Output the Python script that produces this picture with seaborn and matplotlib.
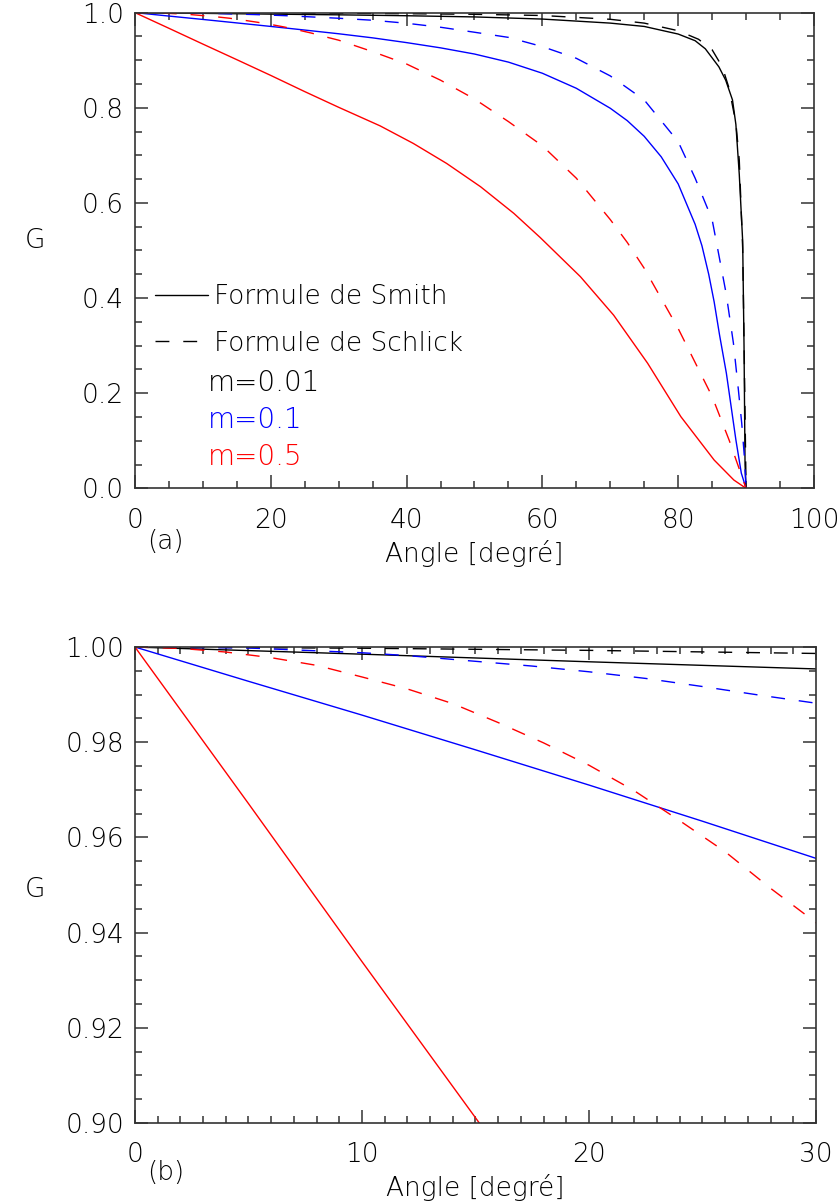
import numpy as np
import pandas as pd
import matplotlib
matplotlib.use("Agg")
import matplotlib.pyplot as plt
from matplotlib.lines import Line2D
from matplotlib.ticker import MultipleLocator, FormatStrFormatter
import seaborn as sns

# values (angle in degrees, G)
smith_001_angle = [0, 10, 20, 30, 40, 50, 60, 70, 75, 80, 82.5, 84, 85, 86, 87, 88, 88.5, 89, 89.5, 89.7, 89.85, 90]
smith_001_g = [1.0, 0.9985, 0.9969, 0.9954, 0.9935, 0.991, 0.9865, 0.978, 0.971, 0.955, 0.941, 0.924,
               0.905, 0.886, 0.858, 0.8165, 0.765, 0.66, 0.52, 0.30, 0.05, 0.0]

schlick_001_angle = [0, 10, 20, 30, 40, 50, 60, 70, 75, 80, 83, 85, 86.5, 87.5, 88.5, 89, 89.5, 89.75, 90]
schlick_001_g = [1.0, 0.99975, 0.9993, 0.99865, 0.9978, 0.9965, 0.994, 0.986, 0.978, 0.962, 0.944,
                 0.922, 0.886, 0.841, 0.768, 0.69, 0.505, 0.26, 0.0]

smith_01_angle = [0, 5, 10, 15, 20, 25, 30, 35, 40, 45, 50, 55, 60, 65, 70, 72.5, 75, 77.5, 80,
                  82.5, 83.5, 84.5, 85.3, 86.1, 87.1, 87.8, 88.5, 89.3, 90]
smith_01_g = [1.0, 0.9928, 0.9857, 0.9784, 0.9710, 0.9634, 0.9556, 0.947, 0.937, 0.926, 0.913, 0.896,
              0.8726, 0.841, 0.799, 0.773, 0.740, 0.697, 0.640, 0.555, 0.510, 0.450, 0.392, 0.322,
              0.242, 0.172, 0.102, 0.032, 0.0]

schlick_01_angle = [0, 5, 10, 12, 15, 17.5, 20, 22.5, 25, 27.5, 30, 35, 40, 45, 50, 55, 60, 65, 70,
                    75, 80, 82.5, 85, 85.6, 87.06, 88.14, 88.87, 89.36, 89.75, 90]
schlick_01_g = [1.0, 0.9998, 0.9988, 0.9982, 0.9970, 0.9960, 0.9948, 0.9934, 0.9917, 0.9899, 0.9882,
                0.984, 0.9777, 0.9693, 0.9588, 0.948, 0.9286, 0.904, 0.867, 0.8165, 0.7288, 0.652,
                0.565, 0.52, 0.41, 0.305, 0.207, 0.137, 0.0665, 0.0]

smith_05_angle = [0, 5, 10, 15, 20, 25, 30, 36.1, 41.0, 45.9, 50.9, 55.8, 59.7, 65.6, 70.5, 75.5,
                  80.4, 85.3, 88.2, 90]
smith_05_g = [1.0, 0.9671, 0.9339, 0.9011, 0.868, 0.834, 0.801, 0.762, 0.725, 0.683, 0.634, 0.578,
              0.527, 0.445, 0.364, 0.263, 0.1506, 0.0595, 0.0175, 0.0]

schlick_05_angle = [0, 2, 4, 6, 8, 10, 12, 14, 16, 18, 20, 22, 24, 26, 28, 30, 35, 40, 45, 50, 55,
                    60, 65, 70, 72.5, 75, 80, 85, 87.5, 90]
schlick_05_g = [1.0, 0.99972, 0.99895, 0.99776, 0.99615, 0.99371, 0.99119, 0.98811, 0.98413, 0.97986,
                0.97517, 0.96979, 0.96350, 0.95699, 0.94930, 0.94210, 0.918, 0.892, 0.858, 0.8185,
                0.771, 0.720, 0.652, 0.565, 0.517, 0.4626, 0.336, 0.193, 0.1016, 0.0]

m_values = ["0.01", "0.1", "0.5"]
m_colors = ["black", "blue", "red"]
formulas = ["Smith", "Schlick"]

series = [
    ("0.01", "Smith", smith_001_angle, smith_001_g),
    ("0.01", "Schlick", schlick_001_angle, schlick_001_g),
    ("0.1", "Smith", smith_01_angle, smith_01_g),
    ("0.1", "Schlick", schlick_01_angle, schlick_01_g),
    ("0.5", "Smith", smith_05_angle, smith_05_g),
    ("0.5", "Schlick", schlick_05_angle, schlick_05_g),
]
frames = []
for m, f, a, g in series:
    frames.append(pd.DataFrame({"angle": a, "G": g, "m": m, "formule": f}))
df = pd.concat(frames, ignore_index=True)

sns.set_style("ticks")
plt.rcParams["font.family"] = ["DejaVu Sans"]
plt.rcParams["font.weight"] = "light"
plt.rcParams["axes.labelweight"] = "light"
plt.rcParams["text.color"] = "black"
plt.rcParams["axes.labelcolor"] = "black"

FS = 19
DASH = (10, 10)
palette = dict(zip(m_values, m_colors))
dashes = {"Smith": "", "Schlick": DASH}

fig = plt.figure(figsize=(8.4, 12.04), dpi=100)
ax1 = fig.add_axes([0.1607, 0.5944, 0.8083, 0.3951])
ax2 = fig.add_axes([0.1607, 0.0673, 0.8107, 0.3953])


def style_axis(ax, xmaj, xmin, ymaj, ymin, yfmt):
    ax.xaxis.set_major_locator(MultipleLocator(xmaj))
    ax.xaxis.set_minor_locator(MultipleLocator(xmin))
    ax.yaxis.set_major_locator(MultipleLocator(ymaj))
    ax.yaxis.set_minor_locator(MultipleLocator(ymin))
    ax.yaxis.set_major_formatter(FormatStrFormatter(yfmt))
    ax.xaxis.set_major_formatter(FormatStrFormatter("%d"))
    ax.tick_params(which="both", direction="in", top=True, right=True, color="#333333", width=1.1,
                   labelcolor="black")
    ax.tick_params(which="major", length=9.5)
    ax.tick_params(which="minor", length=5)
    ax.tick_params(axis="x", which="major", pad=14, labelsize=FS)
    ax.tick_params(axis="y", which="major", pad=8, labelsize=FS)
    for s in ax.spines.values():
        s.set_linewidth(1.2)
        s.set_color("#333333")
    ax.set_xlabel("Angle [degré]", fontsize=FS, labelpad=5, fontweight="light")
    ax.set_ylabel("G", fontsize=FS, rotation=0, ha="center", va="center", fontweight="light")


for ax in (ax1, ax2):
    sns.lineplot(data=df, x="angle", y="G", hue="m", style="formule", palette=palette,
                 dashes=dashes, estimator=None, sort=False, lw=1.0, legend=False, ax=ax)

ax1.set_xlim(0, 100)
ax1.set_ylim(0, 1.0)
style_axis(ax1, 20, 5, 0.2, 0.05, "%.1f")
ax1.yaxis.set_label_coords(-0.1475, 0.522)
ax1.text(0.045, -0.112, "(a)", transform=ax1.transAxes, fontsize=FS, ha="center", va="center")

ax2.set_xlim(0, 30)
ax2.set_ylim(0.90, 1.0)
style_axis(ax2, 10, 1, 0.02, 0.005, "%.2f")
ax2.yaxis.set_label_coords(-0.1468, 0.49)
ax2.text(0.045, -0.105, "(b)", transform=ax2.transAxes, fontsize=FS, ha="center", va="center")

# hand-made legend like the original
h_lines = [Line2D([], [], color="black", lw=1.0, linestyle="-"),
           Line2D([], [], color="black", lw=1.0, linestyle=(0, DASH))]
leg1 = ax1.legend(h_lines, ["Formule de " + f for f in formulas], loc="upper left",
                  bbox_to_anchor=(0.0295, 0.4296), frameon=False, fontsize=FS,
                  handlelength=2.0, handletextpad=0.25, labelspacing=0.82,
                  borderpad=0, borderaxespad=0)
ax1.add_artist(leg1)
h_none = [Line2D([], [], color="none") for _ in m_values]
leg2 = ax1.legend(h_none, ["m=" + m for m in m_values], loc="upper left",
                  bbox_to_anchor=(0.1077, 0.2506), frameon=False, fontsize=FS + 1,
                  handlelength=0, handletextpad=0, labelspacing=0.33,
                  borderpad=0, borderaxespad=0, labelcolor=m_colors)

fig.savefig("out.png", dpi=100)
